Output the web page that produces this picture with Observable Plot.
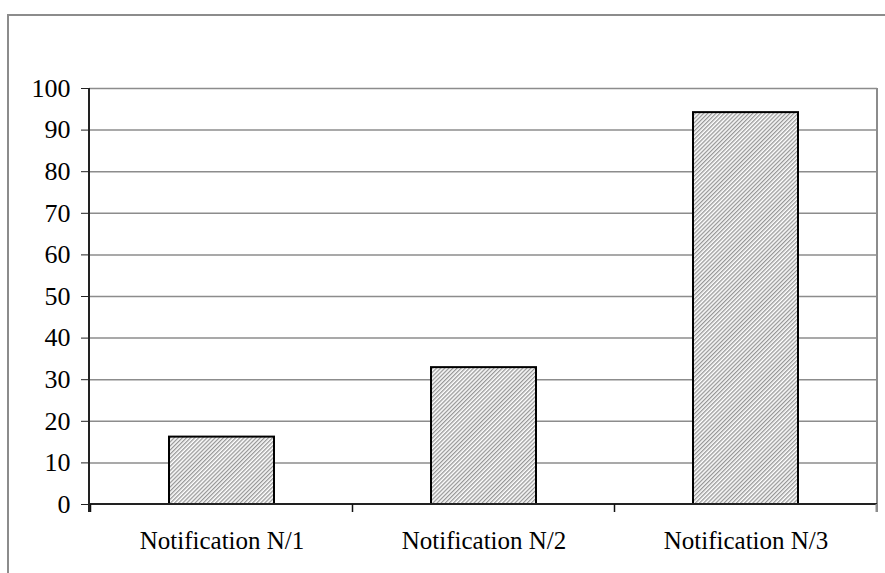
<!DOCTYPE html>
<html>
<head>
<meta charset="utf-8">
<script src="https://cdn.jsdelivr.net/npm/d3@7"></script>
<script src="https://cdn.jsdelivr.net/npm/@observablehq/plot@0.6"></script>
<style>
  html, body { margin: 0; padding: 0; background: #fff; }
  #wrap { position: relative; width: 885px; height: 573px; overflow: hidden; }
  #frame { position: absolute; left: 7px; top: 14px; right: -10px; bottom: -10px;
           border-top: 2px solid #8c8c8c; border-left: 2px solid #8c8c8c; pointer-events: none; }
  #chart { position: absolute; left: 0; top: 0; }
</style>
</head>
<body>
<div id="wrap"><div id="chart"></div><div id="frame"></div></div>
<script>
const categories = ["Notification N/1", "Notification N/2", "Notification N/3"];
const values = [16.2, 32.9, 94.2];
const yTicks = [0, 10, 20, 30, 40, 50, 60, 70, 80, 90, 100];

const data = categories.map((c, i) => ({cat: c, value: values[i]}));

function axesMark(index, scales, values, dimensions) {
  const {width, height, marginLeft, marginRight, marginTop, marginBottom} = dimensions;
  const x = scales.x, y = scales.y;
  const g = d3.create("svg:g");
  const y0 = y(0), yTop = y(100);
  const left = marginLeft, right = width - marginRight;
  const bw = x.bandwidth ? x.bandwidth() : 0;
  const step = x.step ? x.step() : (x(categories[1]) - x(categories[0]));
  const bounds = categories.map(c => x(c) + bw / 2 - step / 2);
  bounds.push(x(categories[categories.length - 1]) + bw / 2 + step / 2);
  g.append("line").attr("x1", right).attr("x2", right).attr("y1", yTop).attr("y2", y0 + 8)
    .attr("stroke", "#8c8c8c").attr("stroke-width", 2);
  g.append("line").attr("x1", left).attr("x2", right).attr("y1", y0).attr("y2", y0)
    .attr("stroke", "#222").attr("stroke-width", 2);
  bounds.forEach((b, i) => {
    g.append("line").attr("x1", b).attr("x2", b).attr("y1", y0).attr("y2", y0 + 8)
      .attr("stroke", i === bounds.length - 1 ? "#8c8c8c" : "#111").attr("stroke-width", i === bounds.length - 1 ? 2 : 1.5);
  });
  g.append("line").attr("x1", left).attr("x2", left).attr("y1", yTop).attr("y2", y0 + 8)
    .attr("stroke", "#222").attr("stroke-width", 2);
  return g.node();
}

const plot = Plot.plot({
  width: 885,
  height: 573,
  marginLeft: 89,
  marginRight: 8,
  marginTop: 88,
  marginBottom: 69,
  style: {fontFamily: "'Liberation Serif', 'Times New Roman', serif", fontSize: "25px", background: "transparent", color: "#000"},
  x: {domain: categories, paddingInner: 0.6, paddingOuter: 0.3, label: null, tickSize: 0, tickPadding: 27},
  y: {domain: [0, 100], ticks: yTicks, label: null, tickSize: 8, tickPadding: 11, tickFormat: d => String(d)},
  marks: [
    Plot.ruleY(yTicks.filter(d => d > 0), {stroke: "#8c8c8c", strokeWidth: 1.5}),
    Plot.barY(data, {x: "cat", y: "value", fill: "url(#hatch)", stroke: "#000", strokeWidth: 2}),
    axesMark
  ]
});

d3.select(plot).insert("defs", ":first-child").html(
  `<pattern id="hatch" patternUnits="userSpaceOnUse" width="2.9" height="2.9" patternTransform="rotate(45)">
     <rect x="0" y="0" width="2.9" height="2.9" fill="#ffffff"></rect>
     <rect x="0" y="0" width="1.3" height="2.9" fill="#969696"></rect>
   </pattern>`
);
d3.select(plot).selectAll("[aria-label='y-axis tick'] path, [aria-label='y-axis'] .tick line").attr("stroke", "#222");
d3.select(plot).selectAll("[aria-label='y-axis tick label'] text, [aria-label='y-axis'] .tick text").style("font-size", "26px");

document.getElementById("chart").appendChild(plot);
</script>
</body>
</html>
